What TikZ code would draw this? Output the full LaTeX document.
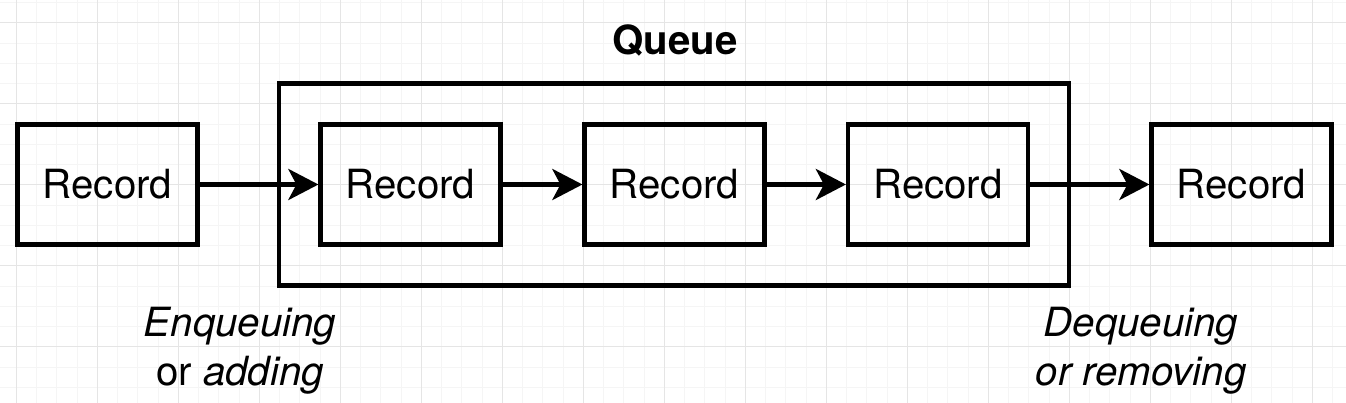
\documentclass[tikz,border=0pt]{standalone}
\usepackage{fontspec}
\setmainfont{TeX Gyre Heros}
\usetikzlibrary{arrows.meta}

\begin{document}
\begin{tikzpicture}[
  record/.style={draw, line width=2.9pt, minimum width=4.5cm, minimum height=3cm, inner sep=0pt, font=\fontsize{28.6}{34.7}\selectfont},
  queuebox/.style={draw, line width=2.9pt, minimum width=19.75cm, minimum height=5.05cm, inner sep=0pt},
  push/.style={line width=4.1pt, -{Stealth[length=7.5mm,width=7.7mm,inset=2mm]}},
  caption/.style={align=center, font=\fontsize{28.6}{34.7}\selectfont}
]
\useasboundingbox (0,0) rectangle (33.65,10.075);

% background grid
\begin{scope}
\clip (0,0) rectangle (33.65,10.075);
\draw[black!4, line width=0.5pt, shift={(0.4075,0.395)}, step=0.50625] (-1,-1) grid (35,12);
\draw[black!10, line width=0.7pt, shift={(0.4075,1.4075)}, step=2.025] (-3,-3) grid (35,12);
\end{scope}

\node[queuebox] (queue) at (16.85,5.4625) {};
\node[anchor=base, font=\bfseries\fontsize{28.6}{34.7}\selectfont] (title) at (16.875,8.7) {Queue};

\node[record] (in) at (2.6875,5.4625) {Record};
\node[record] (r1) at (10.2625,5.4625) {Record};
\node[record] (r2) at (16.8625,5.4625) {Record};
\node[record] (r3) at (23.45,5.4625) {Record};
\node[record] (out) at (31.0375,5.4625) {Record};

\node[caption] (enq) at (6.0,1.31) {\itshape Enqueuing\\or \itshape adding};
\node[caption] (deq) at (28.525,1.31) {\itshape Dequeuing\\\itshape or removing};

\path[draw,push] (in) -- (r1);
\path[draw,push] (r1) -- (r2);
\path[draw,push] (r2) -- (r3);
\path[draw,push] (r3) -- (out);
\end{tikzpicture}
\end{document}
